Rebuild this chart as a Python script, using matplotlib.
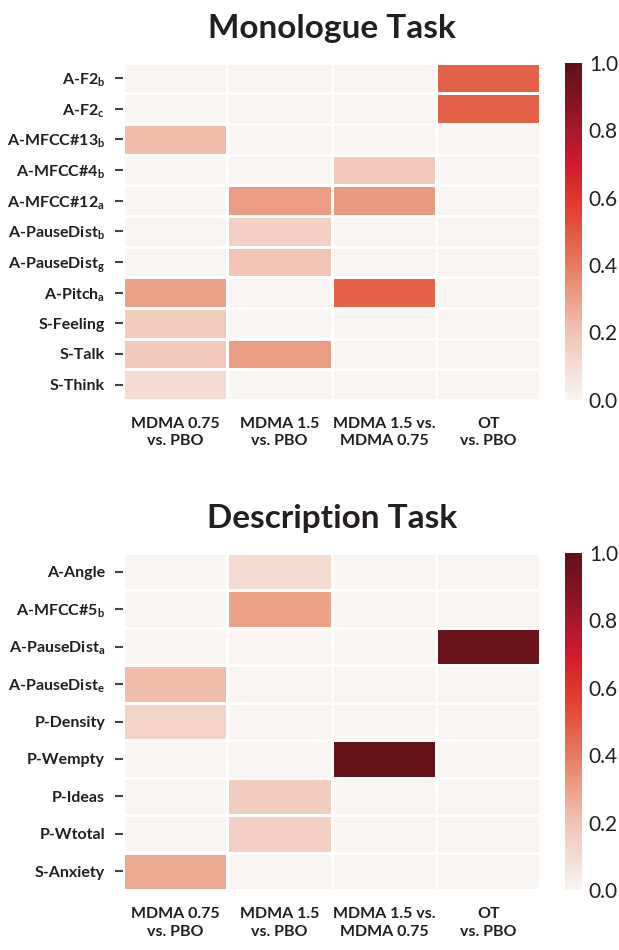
import numpy as np
import matplotlib
matplotlib.use("Agg")
import matplotlib.pyplot as plt
from matplotlib.colors import LinearSegmentedColormap

plt.rcParams['font.family'] = 'Lato'
plt.rcParams['mathtext.fontset'] = 'custom'
plt.rcParams['mathtext.rm'] = 'Lato:bold'
plt.rcParams['mathtext.it'] = 'Lato:bold'
plt.rcParams['mathtext.bf'] = 'Lato:bold'

comparisons = ['MDMA 0.75\nvs. PBO', 'MDMA 1.5\nvs. PBO', 'MDMA 1.5 vs.\nMDMA 0.75', 'OT\nvs. PBO']

mono_rows = ['A-F2$_b$', 'A-F2$_c$', 'A-MFCC#13$_b$', 'A-MFCC#4$_b$', 'A-MFCC#12$_a$',
             'A-PauseDist$_b$', 'A-PauseDist$_g$', 'A-Pitch$_a$', 'S-Feeling', 'S-Talk', 'S-Think']
mono_vals = [
    [0.00, 0.00, 0.00, 0.47],
    [0.00, 0.00, 0.00, 0.47],
    [0.22, 0.00, 0.00, 0.00],
    [0.00, 0.00, 0.18, 0.00],
    [0.00, 0.31, 0.32, 0.00],
    [0.00, 0.15, 0.00, 0.00],
    [0.00, 0.20, 0.00, 0.00],
    [0.30, 0.00, 0.47, 0.00],
    [0.17, 0.00, 0.00, 0.00],
    [0.18, 0.31, 0.00, 0.00],
    [0.10, 0.00, 0.00, 0.00],
]

desc_rows = ['A-Angle', 'A-MFCC#5$_b$', 'A-PauseDist$_a$', 'A-PauseDist$_e$', 'P-Density',
             'P-Wempty', 'P-Ideas', 'P-Wtotal', 'S-Anxiety']
desc_vals = [
    [0.00, 0.10, 0.00, 0.00],
    [0.00, 0.30, 0.00, 0.00],
    [0.00, 0.00, 0.00, 0.96],
    [0.22, 0.00, 0.00, 0.00],
    [0.14, 0.00, 0.00, 0.00],
    [0.00, 0.00, 0.98, 0.00],
    [0.00, 0.16, 0.00, 0.00],
    [0.00, 0.15, 0.00, 0.00],
    [0.28, 0.00, 0.00, 0.00],
]

# muted "Reds" as it appears in the figure
reds = LinearSegmentedColormap.from_list('reds_muted', [
    '#f9f5f3', '#f4dcd2', '#f1c4b4', '#eca088', '#e67b62', '#e3573f',
    '#e0352c', '#d11a2d', '#a8182a', '#80141f', '#5e1118'])

txt = '#231f20'
fig = plt.figure(figsize=(6.19, 9.5), dpi=100)


def panel(bottom, rows, vals, title):
    ax = fig.add_axes([0.199, bottom, 0.674, 0.355])
    cax = fig.add_axes([0.913, bottom, 0.027, 0.355])
    data = np.array(vals)
    m = ax.pcolormesh(data, cmap=reds, vmin=0, vmax=1, edgecolors='white', linewidth=0.8)
    ax.set_xlim(0, data.shape[1])
    ax.set_ylim(data.shape[0], 0)
    ax.set_yticks(np.arange(len(rows)) + 0.5)
    ax.set_yticklabels(rows, fontsize=11.5, fontweight='bold', color=txt)
    ax.set_xticks(np.arange(len(comparisons)) + 0.5)
    ax.set_xticklabels(comparisons, fontsize=11.5, fontweight='bold', color=txt, linespacing=1.35)
    ax.tick_params(axis='y', length=6, width=1.5, pad=7, color='#444444')
    ax.tick_params(axis='x', length=0, pad=12)
    for s in ax.spines.values():
        s.set_visible(False)
    ax.set_title(title, fontsize=24, fontweight='bold', color=txt, pad=18)
    cb = fig.colorbar(m, cax=cax)
    cb.outline.set_visible(False)
    cb.set_ticks([0, 0.2, 0.4, 0.6, 0.8, 1.0])
    cb.ax.tick_params(length=0, labelsize=15, pad=5, labelcolor=txt)
    return ax


panel(0.579, mono_rows, mono_vals, 'Monologue Task')
panel(0.063, desc_rows, desc_vals, 'Description Task')

fig.savefig('out.png', dpi=100)
